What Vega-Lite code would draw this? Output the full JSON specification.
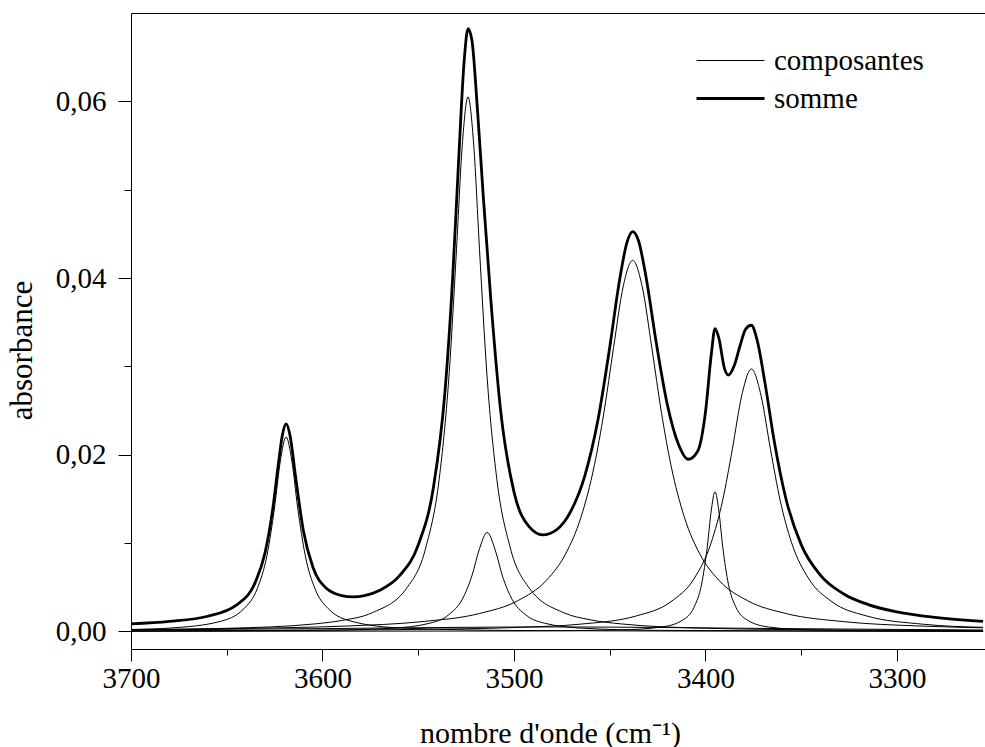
{
"$schema": "https://vega.github.io/schema/vega-lite/v6.json",
"width": 854, "height": 636,
"autosize": {"type": "none"},
"padding": {"left": 131, "top": 13, "right": 0, "bottom": 98},
"background": "white",
"config": {
 "view": {"stroke": null},
 "axis": {"labelFont": "Liberation Serif", "titleFont": "Liberation Serif", "labelColor": "black", "titleColor": "black", "domainColor": "black", "tickColor": "black", "labelFontSize": 29, "titleFontSize": 30, "titleFontWeight": "normal", "grid": false, "domainWidth": 1, "tickWidth": 1}
},
"datasets": {
 "axe": [{"onde": 3700, "abs": 0}],
 "spectre": [
{"onde":3700,"abs":0.00021,"courbe":"c1","type":"composantes"},
{"onde":3679,"abs":0.00038,"courbe":"c1","type":"composantes"},
{"onde":3654,"abs":0.00109,"courbe":"c1","type":"composantes"},
{"onde":3641,"abs":0.00257,"courbe":"c1","type":"composantes"},
{"onde":3634,"abs":0.00487,"courbe":"c1","type":"composantes"},
{"onde":3629,"abs":0.00859,"courbe":"c1","type":"composantes"},
{"onde":3625,"abs":0.01408,"courbe":"c1","type":"composantes"},
{"onde":3622,"abs":0.01929,"courbe":"c1","type":"composantes"},
{"onde":3619,"abs":0.0220,"courbe":"c1","type":"composantes"},
{"onde":3616,"abs":0.01929,"courbe":"c1","type":"composantes"},
{"onde":3613,"abs":0.01408,"courbe":"c1","type":"composantes"},
{"onde":3609,"abs":0.00859,"courbe":"c1","type":"composantes"},
{"onde":3604,"abs":0.00487,"courbe":"c1","type":"composantes"},
{"onde":3597,"abs":0.00257,"courbe":"c1","type":"composantes"},
{"onde":3584,"abs":0.00109,"courbe":"c1","type":"composantes"},
{"onde":3559,"abs":0.00038,"courbe":"c1","type":"composantes"},
{"onde":3500,"abs":0.0001,"courbe":"c1","type":"composantes"},
{"onde":3400,"abs":0.00003,"courbe":"c1","type":"composantes"},
{"onde":3255,"abs":0.00001,"courbe":"c1","type":"composantes"},
{"onde":3700,"abs":0.00018,"courbe":"c2","type":"composantes"},
{"onde":3650,"abs":0.00034,"courbe":"c2","type":"composantes"},
{"onde":3604,"abs":0.00084,"courbe":"c2","type":"composantes"},
{"onde":3590,"abs":0.00123,"courbe":"c2","type":"composantes"},
{"onde":3574,"abs":0.00211,"courbe":"c2","type":"composantes"},
{"onde":3556,"abs":0.0049,"courbe":"c2","type":"composantes"},
{"onde":3546,"abs":0.00951,"courbe":"c2","type":"composantes"},
{"onde":3539,"abs":0.01732,"courbe":"c2","type":"composantes"},
{"onde":3534,"abs":0.0287,"courbe":"c2","type":"composantes"},
{"onde":3530,"abs":0.04325,"courbe":"c2","type":"composantes"},
{"onde":3527,"abs":0.05501,"courbe":"c2","type":"composantes"},
{"onde":3524,"abs":0.0605,"courbe":"c2","type":"composantes"},
{"onde":3521,"abs":0.05501,"courbe":"c2","type":"composantes"},
{"onde":3518,"abs":0.04325,"courbe":"c2","type":"composantes"},
{"onde":3514,"abs":0.0287,"courbe":"c2","type":"composantes"},
{"onde":3509,"abs":0.01732,"courbe":"c2","type":"composantes"},
{"onde":3502,"abs":0.00951,"courbe":"c2","type":"composantes"},
{"onde":3492,"abs":0.0049,"courbe":"c2","type":"composantes"},
{"onde":3474,"abs":0.00211,"courbe":"c2","type":"composantes"},
{"onde":3460,"abs":0.0013,"courbe":"c2","type":"composantes"},
{"onde":3444,"abs":0.00084,"courbe":"c2","type":"composantes"},
{"onde":3400,"abs":0.00035,"courbe":"c2","type":"composantes"},
{"onde":3330,"abs":0.00015,"courbe":"c2","type":"composantes"},
{"onde":3255,"abs":0.00008,"courbe":"c2","type":"composantes"},
{"onde":3700,"abs":0.00003,"courbe":"c3","type":"composantes"},
{"onde":3604,"abs":0.00011,"courbe":"c3","type":"composantes"},
{"onde":3564,"abs":0.00035,"courbe":"c3","type":"composantes"},
{"onde":3544,"abs":0.00092,"courbe":"c3","type":"composantes"},
{"onde":3534,"abs":0.00189,"courbe":"c3","type":"composantes"},
{"onde":3527,"abs":0.00363,"courbe":"c3","type":"composantes"},
{"onde":3522,"abs":0.00626,"courbe":"c3","type":"composantes"},
{"onde":3518,"abs":0.00935,"courbe":"c3","type":"composantes"},
{"onde":3514,"abs":0.0112,"courbe":"c3","type":"composantes"},
{"onde":3510,"abs":0.00935,"courbe":"c3","type":"composantes"},
{"onde":3506,"abs":0.00626,"courbe":"c3","type":"composantes"},
{"onde":3501,"abs":0.00363,"courbe":"c3","type":"composantes"},
{"onde":3494,"abs":0.00189,"courbe":"c3","type":"composantes"},
{"onde":3484,"abs":0.00092,"courbe":"c3","type":"composantes"},
{"onde":3464,"abs":0.00035,"courbe":"c3","type":"composantes"},
{"onde":3424,"abs":0.00011,"courbe":"c3","type":"composantes"},
{"onde":3255,"abs":0.00001,"courbe":"c3","type":"composantes"},
{"onde":3700,"abs":0.0002,"courbe":"c4","type":"composantes"},
{"onde":3638,"abs":0.00034,"courbe":"c4","type":"composantes"},
{"onde":3588,"abs":0.0006,"courbe":"c4","type":"composantes"},
{"onde":3548,"abs":0.0011,"courbe":"c4","type":"composantes"},
{"onde":3518,"abs":0.00202,"courbe":"c4","type":"composantes"},
{"onde":3498,"abs":0.00347,"courbe":"c4","type":"composantes"},
{"onde":3483,"abs":0.00579,"courbe":"c4","type":"composantes"},
{"onde":3473,"abs":0.00878,"courbe":"c4","type":"composantes"},
{"onde":3465,"abs":0.01292,"courbe":"c4","type":"composantes"},
{"onde":3458,"abs":0.0188,"courbe":"c4","type":"composantes"},
{"onde":3453,"abs":0.02479,"courbe":"c4","type":"composantes"},
{"onde":3448,"abs":0.0321,"courbe":"c4","type":"composantes"},
{"onde":3443,"abs":0.03899,"courbe":"c4","type":"composantes"},
{"onde":3438,"abs":0.042,"courbe":"c4","type":"composantes"},
{"onde":3433,"abs":0.03899,"courbe":"c4","type":"composantes"},
{"onde":3428,"abs":0.0321,"courbe":"c4","type":"composantes"},
{"onde":3423,"abs":0.02479,"courbe":"c4","type":"composantes"},
{"onde":3418,"abs":0.0188,"courbe":"c4","type":"composantes"},
{"onde":3411,"abs":0.01292,"courbe":"c4","type":"composantes"},
{"onde":3403,"abs":0.00878,"courbe":"c4","type":"composantes"},
{"onde":3393,"abs":0.00579,"courbe":"c4","type":"composantes"},
{"onde":3378,"abs":0.00347,"courbe":"c4","type":"composantes"},
{"onde":3358,"abs":0.00202,"courbe":"c4","type":"composantes"},
{"onde":3328,"abs":0.0011,"courbe":"c4","type":"composantes"},
{"onde":3288,"abs":0.0006,"courbe":"c4","type":"composantes"},
{"onde":3255,"abs":0.0004,"courbe":"c4","type":"composantes"},
{"onde":3700,"abs":0.0,"courbe":"c5","type":"composantes"},
{"onde":3495,"abs":0.00004,"courbe":"c5","type":"composantes"},
{"onde":3445,"abs":0.00016,"courbe":"c5","type":"composantes"},
{"onde":3423,"abs":0.00049,"courbe":"c5","type":"composantes"},
{"onde":3412,"abs":0.00126,"courbe":"c5","type":"composantes"},
{"onde":3406,"abs":0.00271,"courbe":"c5","type":"composantes"},
{"onde":3402,"abs":0.00534,"courbe":"c5","type":"composantes"},
{"onde":3399,"abs":0.00963,"courbe":"c5","type":"composantes"},
{"onde":3397,"abs":0.01362,"courbe":"c5","type":"composantes"},
{"onde":3395,"abs":0.0158,"courbe":"c5","type":"composantes"},
{"onde":3393,"abs":0.01362,"courbe":"c5","type":"composantes"},
{"onde":3391,"abs":0.00963,"courbe":"c5","type":"composantes"},
{"onde":3388,"abs":0.00534,"courbe":"c5","type":"composantes"},
{"onde":3384,"abs":0.00271,"courbe":"c5","type":"composantes"},
{"onde":3378,"abs":0.00126,"courbe":"c5","type":"composantes"},
{"onde":3367,"abs":0.00049,"courbe":"c5","type":"composantes"},
{"onde":3345,"abs":0.00016,"courbe":"c5","type":"composantes"},
{"onde":3295,"abs":0.00004,"courbe":"c5","type":"composantes"},
{"onde":3255,"abs":0.00002,"courbe":"c5","type":"composantes"},
{"onde":3700,"abs":0.00006,"courbe":"c6","type":"composantes"},
{"onde":3626,"abs":0.00011,"courbe":"c6","type":"composantes"},
{"onde":3526,"abs":0.00029,"courbe":"c6","type":"composantes"},
{"onde":3496,"abs":0.00046,"courbe":"c6","type":"composantes"},
{"onde":3466,"abs":0.0008,"courbe":"c6","type":"composantes"},
{"onde":3436,"abs":0.00175,"courbe":"c6","type":"composantes"},
{"onde":3418,"abs":0.00336,"courbe":"c6","type":"composantes"},
{"onde":3406,"abs":0.00594,"courbe":"c6","type":"composantes"},
{"onde":3397,"abs":0.01003,"courbe":"c6","type":"composantes"},
{"onde":3391,"abs":0.01485,"courbe":"c6","type":"composantes"},
{"onde":3386,"abs":0.02056,"courbe":"c6","type":"composantes"},
{"onde":3381,"abs":0.02673,"courbe":"c6","type":"composantes"},
{"onde":3376,"abs":0.0297,"courbe":"c6","type":"composantes"},
{"onde":3371,"abs":0.02673,"courbe":"c6","type":"composantes"},
{"onde":3366,"abs":0.02056,"courbe":"c6","type":"composantes"},
{"onde":3361,"abs":0.01485,"courbe":"c6","type":"composantes"},
{"onde":3355,"abs":0.01003,"courbe":"c6","type":"composantes"},
{"onde":3346,"abs":0.00594,"courbe":"c6","type":"composantes"},
{"onde":3334,"abs":0.00336,"courbe":"c6","type":"composantes"},
{"onde":3316,"abs":0.00175,"courbe":"c6","type":"composantes"},
{"onde":3286,"abs":0.0008,"courbe":"c6","type":"composantes"},
{"onde":3255,"abs":0.00045,"courbe":"c6","type":"composantes"},
{"onde":3700,"abs":0.00016,"courbe":"c7","type":"composantes"},
{"onde":3600,"abs":0.00031,"courbe":"c7","type":"composantes"},
{"onde":3540,"abs":0.00043,"courbe":"c7","type":"composantes"},
{"onde":3480,"abs":0.0005,"courbe":"c7","type":"composantes"},
{"onde":3420,"abs":0.00043,"courbe":"c7","type":"composantes"},
{"onde":3360,"abs":0.00031,"courbe":"c7","type":"composantes"},
{"onde":3255,"abs":0.00015,"courbe":"c7","type":"composantes"},
{"onde":3700,"abs":0.00084,"courbe":"somme","type":"somme"},
{"onde":3680,"abs":0.00112,"courbe":"somme","type":"somme"},
{"onde":3660,"abs":0.00171,"courbe":"somme","type":"somme"},
{"onde":3645,"abs":0.00297,"courbe":"somme","type":"somme"},
{"onde":3635,"abs":0.0056,"courbe":"somme","type":"somme"},
{"onde":3630,"abs":0.00889,"courbe":"somme","type":"somme"},
{"onde":3626,"abs":0.01381,"courbe":"somme","type":"somme"},
{"onde":3623,"abs":0.019,"courbe":"somme","type":"somme"},
{"onde":3621,"abs":0.02215,"courbe":"somme","type":"somme"},
{"onde":3619,"abs":0.02348,"courbe":"somme","type":"somme"},
{"onde":3617,"abs":0.02223,"courbe":"somme","type":"somme"},
{"onde":3614,"abs":0.01742,"courbe":"somme","type":"somme"},
{"onde":3610,"abs":0.01141,"courbe":"somme","type":"somme"},
{"onde":3605,"abs":0.00726,"courbe":"somme","type":"somme"},
{"onde":3598,"abs":0.00488,"courbe":"somme","type":"somme"},
{"onde":3590,"abs":0.00405,"courbe":"somme","type":"somme"},
{"onde":3584,"abs":0.0039,"courbe":"somme","type":"somme"},
{"onde":3578,"abs":0.00405,"courbe":"somme","type":"somme"},
{"onde":3570,"abs":0.00465,"courbe":"somme","type":"somme"},
{"onde":3560,"abs":0.00624,"courbe":"somme","type":"somme"},
{"onde":3550,"abs":0.00978,"courbe":"somme","type":"somme"},
{"onde":3542,"abs":0.01637,"courbe":"somme","type":"somme"},
{"onde":3536,"abs":0.0272,"courbe":"somme","type":"somme"},
{"onde":3532,"abs":0.04005,"courbe":"somme","type":"somme"},
{"onde":3529,"abs":0.05285,"courbe":"somme","type":"somme"},
{"onde":3526,"abs":0.06459,"courbe":"somme","type":"somme"},
{"onde":3524,"abs":0.06822,"courbe":"somme","type":"somme"},
{"onde":3522,"abs":0.06698,"courbe":"somme","type":"somme"},
{"onde":3519,"abs":0.05887,"courbe":"somme","type":"somme"},
{"onde":3516,"abs":0.04916,"courbe":"somme","type":"somme"},
{"onde":3512,"abs":0.03731,"courbe":"somme","type":"somme"},
{"onde":3507,"abs":0.02506,"courbe":"somme","type":"somme"},
{"onde":3500,"abs":0.01579,"courbe":"somme","type":"somme"},
{"onde":3492,"abs":0.01182,"courbe":"somme","type":"somme"},
{"onde":3485,"abs":0.01092,"courbe":"somme","type":"somme"},
{"onde":3478,"abs":0.01146,"courbe":"somme","type":"somme"},
{"onde":3470,"abs":0.01373,"courbe":"somme","type":"somme"},
{"onde":3463,"abs":0.01761,"courbe":"somme","type":"somme"},
{"onde":3456,"abs":0.02409,"courbe":"somme","type":"somme"},
{"onde":3450,"abs":0.03212,"courbe":"somme","type":"somme"},
{"onde":3445,"abs":0.03955,"courbe":"somme","type":"somme"},
{"onde":3441,"abs":0.04401,"courbe":"somme","type":"somme"},
{"onde":3438,"abs":0.04524,"courbe":"somme","type":"somme"},
{"onde":3435,"abs":0.04424,"courbe":"somme","type":"somme"},
{"onde":3431,"abs":0.04009,"courbe":"somme","type":"somme"},
{"onde":3426,"abs":0.0331,"courbe":"somme","type":"somme"},
{"onde":3420,"abs":0.02577,"courbe":"somme","type":"somme"},
{"onde":3414,"abs":0.02113,"courbe":"somme","type":"somme"},
{"onde":3409,"abs":0.01948,"courbe":"somme","type":"somme"},
{"onde":3404,"abs":0.02042,"courbe":"somme","type":"somme"},
{"onde":3400,"abs":0.02478,"courbe":"somme","type":"somme"},
{"onde":3397,"abs":0.03125,"courbe":"somme","type":"somme"},
{"onde":3395,"abs":0.03426,"courbe":"somme","type":"somme"},
{"onde":3393,"abs":0.03319,"courbe":"somme","type":"somme"},
{"onde":3390,"abs":0.02971,"courbe":"somme","type":"somme"},
{"onde":3388,"abs":0.02901,"courbe":"somme","type":"somme"},
{"onde":3385,"abs":0.03006,"courbe":"somme","type":"somme"},
{"onde":3382,"abs":0.03227,"courbe":"somme","type":"somme"},
{"onde":3379,"abs":0.03422,"courbe":"somme","type":"somme"},
{"onde":3376,"abs":0.03465,"courbe":"somme","type":"somme"},
{"onde":3373,"abs":0.03296,"courbe":"somme","type":"somme"},
{"onde":3369,"abs":0.02824,"courbe":"somme","type":"somme"},
{"onde":3364,"abs":0.02144,"courbe":"somme","type":"somme"},
{"onde":3358,"abs":0.01504,"courbe":"somme","type":"somme"},
{"onde":3350,"abs":0.00982,"courbe":"somme","type":"somme"},
{"onde":3340,"abs":0.00637,"courbe":"somme","type":"somme"},
{"onde":3328,"abs":0.00426,"courbe":"somme","type":"somme"},
{"onde":3315,"abs":0.00303,"courbe":"somme","type":"somme"},
{"onde":3300,"abs":0.00221,"courbe":"somme","type":"somme"},
{"onde":3280,"abs":0.00158,"courbe":"somme","type":"somme"},
{"onde":3255,"abs":0.00113,"courbe":"somme","type":"somme"}
 ]
},
"layer": [
 {
  "data": {"name": "spectre"},
  "mark": {"type": "line", "color": "black", "clip": true, "strokeJoin": "round", "interpolate": "monotone"},
  "encoding": {
   "x": {"field": "onde", "type": "quantitative",
     "scale": {"domain": [3254, 3700], "reverse": true, "nice": false, "zero": false},
     "axis": {"orient": "bottom", "values": [3700, 3600, 3500, 3400, 3300], "format": "d", "tickSize": 12, "labelPadding": 26, "labelBaseline": "alphabetic", "labelFlush": false, "labelOverlap": false,
       "title": "nombre d'onde (cm⁻¹)", "titleX": 419, "titleY": 93, "titleBaseline": "alphabetic", "titleAlign": "center", "titleAnchor": null}},
   "y": {"field": "abs", "type": "quantitative",
     "scale": {"domain": [-0.002, 0.07], "nice": false, "zero": false},
     "axis": {"orient": "left", "values": [0, 0.02, 0.04, 0.06], "labelExpr": "replace(format(datum.value, '.2f'), '.', ',')", "tickSize": 13, "labelPadding": 12,
       "title": "absorbance", "titleX": -109, "titleY": 337, "titleAngle": -90, "titleAlign": "center", "titleBaseline": "middle", "titleAnchor": null, "titleFontSize": 31}},
   "detail": {"field": "courbe"},
   "strokeWidth": {"field": "type", "type": "nominal",
     "scale": {"domain": ["composantes", "somme"], "range": [1, 2.8]},
     "legend": {"title": null, "orient": "none", "legendX": 585, "legendY": 33, "padding": 0,
       "symbolType": "M-3,0H3", "symbolSize": 514, "symbolStrokeColor": "black", "symbolFillColor": "transparent",
       "labelFont": "Liberation Serif", "labelFontSize": 29, "labelColor": "black", "labelOffset": 29, "labelBaseline": "middle", "rowPadding": 8}}
  }
 },
 {
  "data": {"name": "axe"},
  "mark": {"type": "point", "opacity": 0},
  "encoding": {
   "x": {"field": "onde", "type": "quantitative", "scale": {"domain": [3254, 3700], "reverse": true, "nice": false, "zero": false},
     "axis": {"orient": "bottom", "values": [3650, 3550, 3450, 3350], "tickSize": 6, "labels": false, "domain": false, "title": null}},
   "y": {"field": "abs", "type": "quantitative", "scale": {"domain": [-0.002, 0.07], "nice": false, "zero": false},
     "axis": {"orient": "left", "values": [0.01, 0.03, 0.05], "tickSize": 7, "labels": false, "domain": false, "title": null}}
  }
 },
 {
  "data": {"name": "axe"},
  "mark": {"type": "point", "opacity": 0},
  "encoding": {
   "x": {"field": "onde", "type": "quantitative", "scale": {"domain": [3254, 3700], "reverse": true, "nice": false, "zero": false},
     "axis": {"orient": "top", "ticks": false, "labels": false, "domain": true, "title": null}},
   "y": {"field": "abs", "type": "quantitative", "axis": null}
  }
 }
],
"resolve": {"axis": {"x": "independent", "y": "independent"}}
}
